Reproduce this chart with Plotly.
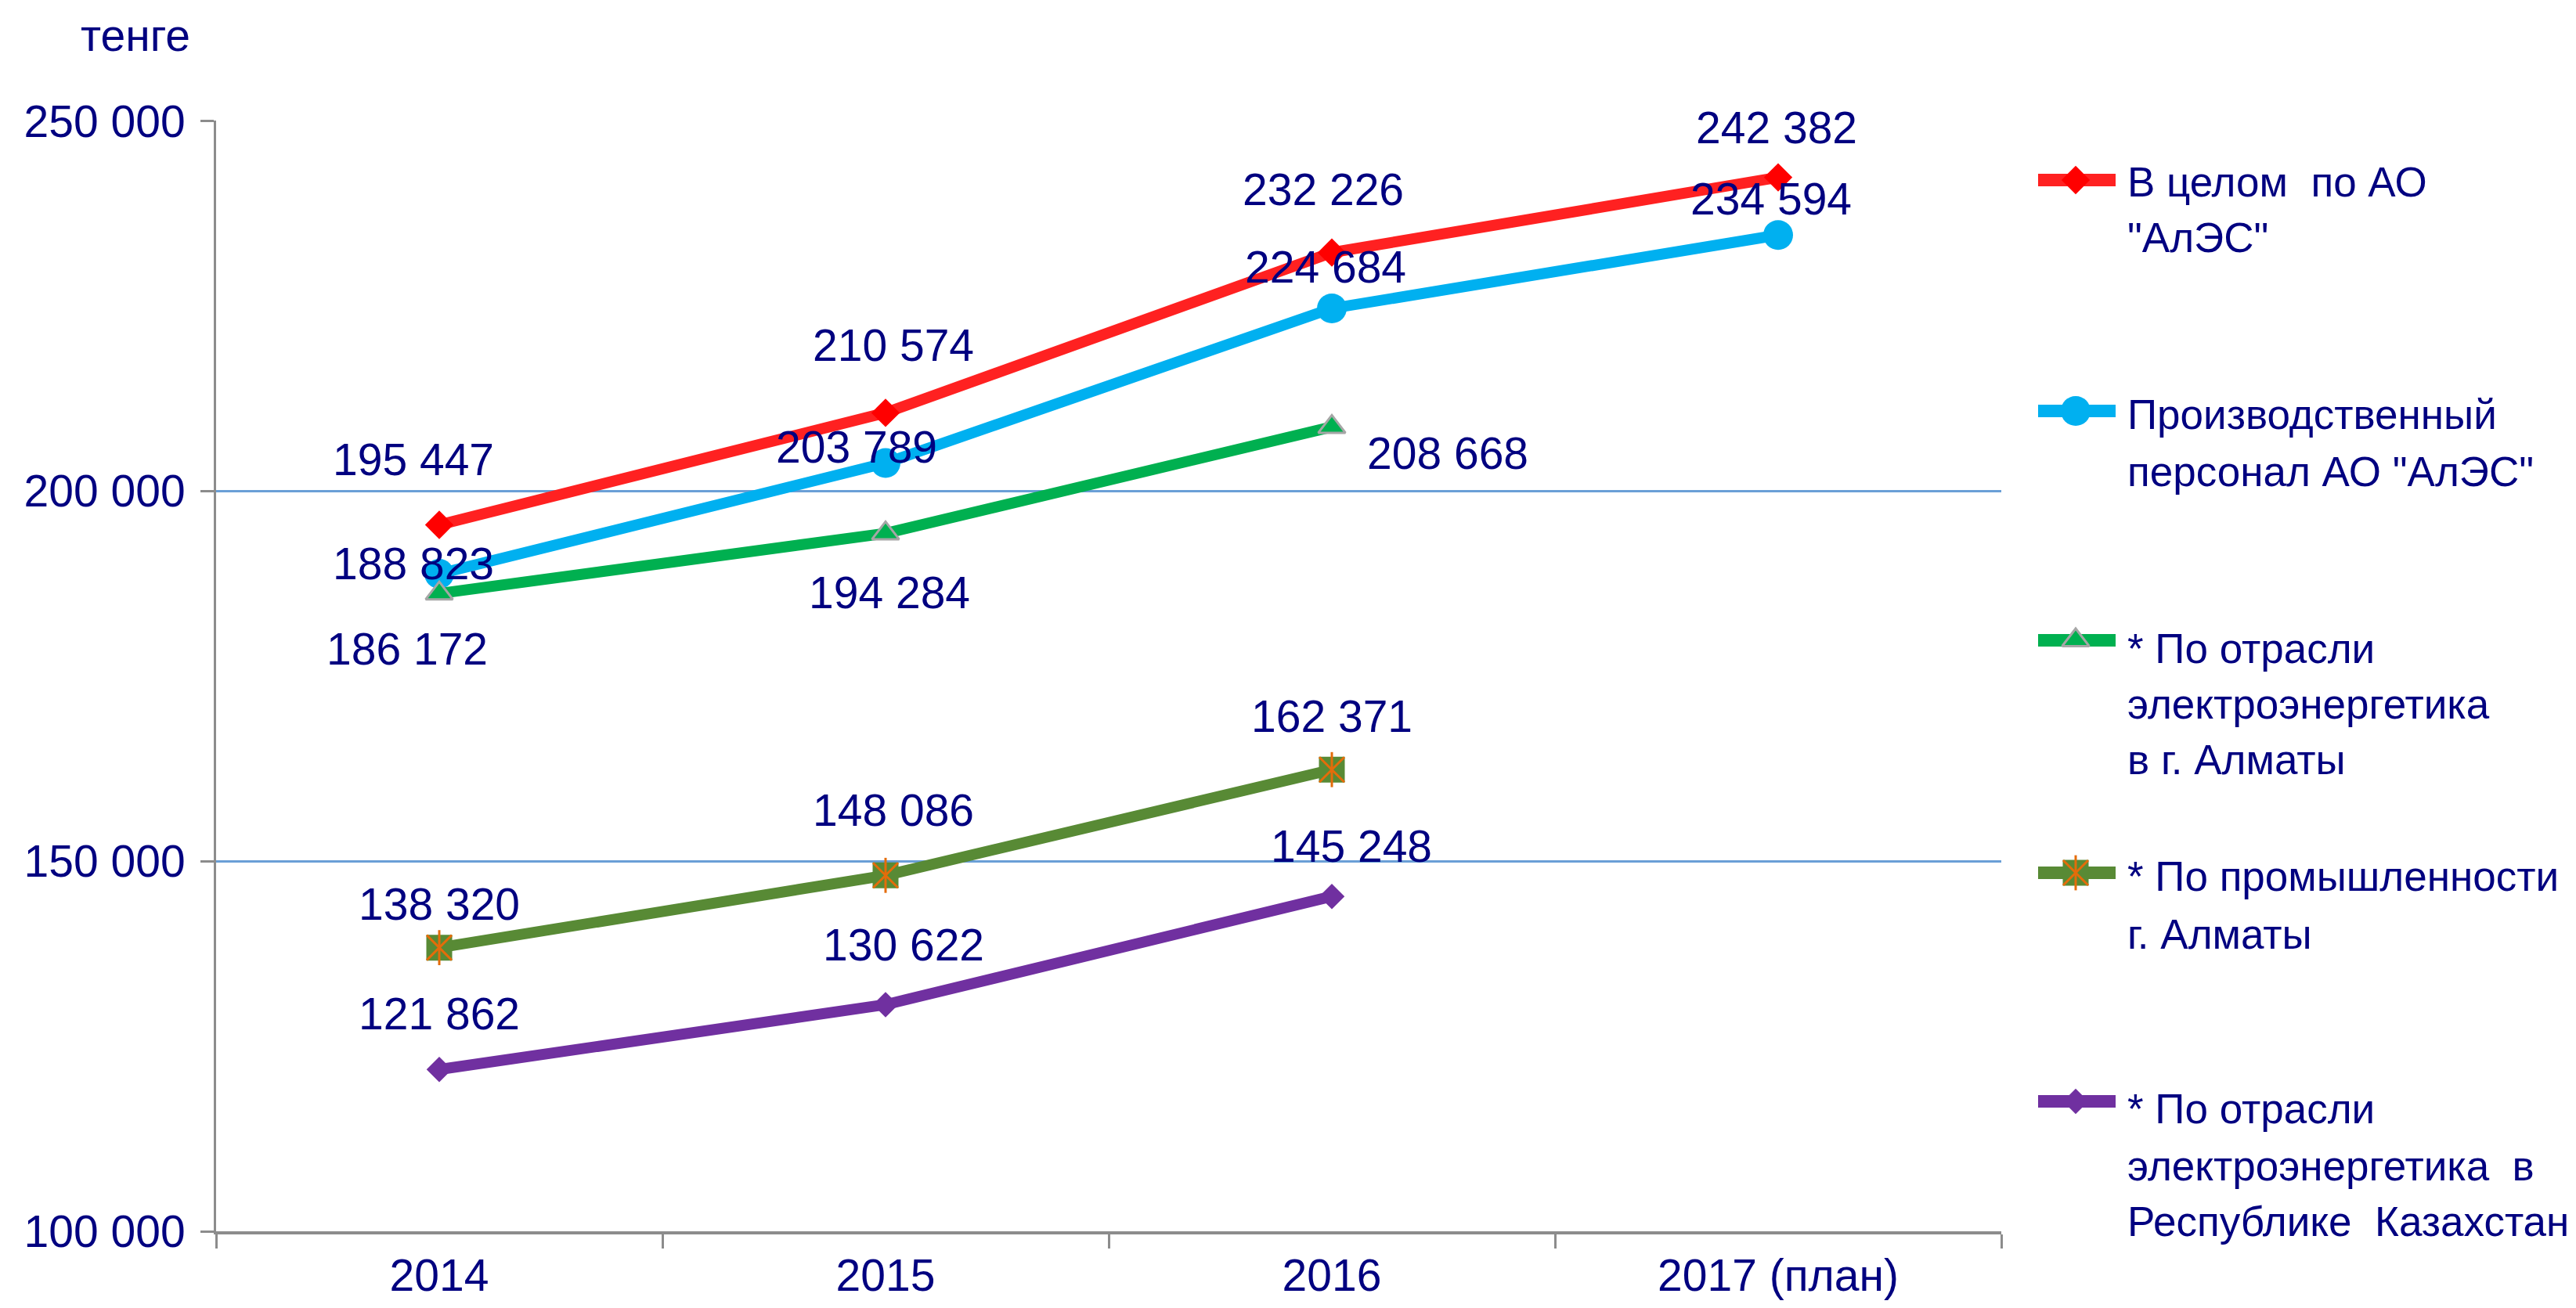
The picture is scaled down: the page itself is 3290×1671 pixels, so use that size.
import plotly.graph_objects as go

# ---------------- data ----------------
categories = ["2014", "2015", "2016", "2017 (план)"]
total_ales = [195447, 210574, 232226, 242382]
prod_staff = [188823, 203789, 224684, 234594]
energy_almaty = [186172, 194284, 208668]
industry_almaty = [138320, 148086, 162371]
energy_kz = [121862, 130622, 145248]
y_tick_values = [100000, 150000, 200000, 250000]

series_names = [
    'В целом по АО "АлЭС"',
    'Производственный персонал АО "АлЭС"',
    '* По отрасли электроэнергетика в г. Алматы',
    '* По промышленности г. Алматы',
    '* По отрасли электроэнергетика в Республике Казахстан',
]
legend_text_lines = [
    ['В целом  по АО', '"АлЭС"'],
    ['Производственный', 'персонал АО "АлЭС"'],
    ['* По отрасли', 'электроэнергетика', 'в г. Алматы'],
    ['* По промышленности', 'г. Алматы'],
    ['* По отрасли', 'электроэнергетика  в', 'Республике  Казахстан'],
]
y_unit = "тенге"

# ---------------- styles ----------------
W, H = 3290, 1671
FONT = "Liberation Sans, Arial, sans-serif"
NAVY = "#000080"
FS = 57
LEG_FS = 53
series_values = [total_ales, prod_staff, energy_almaty, industry_almaty, energy_kz]
line_colors = ["#FF2121", "#00B0F0", "#00B050", "#588A35", "#7030A0"]
marker_styles = [
    dict(symbol="diamond", size=28, color="#FF0000"),
    dict(symbol="circle", size=38, color="#00B0F0"),
    dict(symbol="triangle-up", size=30, color="#00B050", line=dict(color="#A6A6A6", width=3)),
    dict(symbol="square", size=33, color="#588A35"),
    dict(symbol="diamond", size=25, color="#7030A0"),
]
ORANGE = "#E46C0A"
# data label offsets (px, dx right, dy down)
label_offsets = [
    [(-33, -83), (10, -86), (-11, -81), (-2, -64)],
    [(-33, -13), (-37, -21), (-8, -53), (-9, -46)],
    [(-41, 71), (5, 76), (148, 34)],
    [(0, -56), (10, -83), (0, -68)],
    [(0, -71), (23, -76), (25, -64)],
]
# legend layout (px)
LEG_LINE_X0, LEG_LINE_X1, LEG_MARK_X, LEG_TEXT_X = 2595, 2694, 2643, 2707
legend_sample_y = [222, 517, 810, 1107, 1399]
legend_line_y = [[225, 295], [521, 594], [820, 891, 962], [1111, 1185], [1408, 1481, 1552]]

X0, X1 = 268, 2548
Y_TOP, Y_BOT = 146, 1565

fig = go.Figure()

for i, (name, vals) in enumerate(zip(series_names, series_values)):
    fig.add_trace(go.Scatter(
        x=categories[:len(vals)], y=vals, name=name, mode="lines+markers",
        line=dict(color=line_colors[i], width=14),
        marker=marker_styles[i], showlegend=False, cliponaxis=False,
    ))
    if i == 3:
        for sym in ["x-thin-open", "line-ns-open"]:
            fig.add_trace(go.Scatter(
                x=categories[:len(vals)], y=vals, mode="markers", showlegend=False,
                marker=dict(symbol=sym, size=32, color=ORANGE, line=dict(color=ORANGE, width=3)),
                cliponaxis=False, hoverinfo="skip",
            ))

annotations = []
for i, vals in enumerate(series_values):
    for j, v in enumerate(vals):
        dx, dy = label_offsets[i][j]
        annotations.append(dict(
            x=j, y=v, xref="x", yref="y", showarrow=False,
            text=f"{v:,}".replace(",", " "), xshift=dx, yshift=-dy,
            font=dict(family=FONT, size=FS, color=NAVY),
        ))

# manual legend (samples drawn on an auxiliary pixel axis)
for i in range(len(series_names)):
    ly = legend_sample_y[i]
    fig.add_trace(go.Scatter(
        x=[LEG_LINE_X0, LEG_LINE_X1], y=[ly, ly], xaxis="x2", yaxis="y2", mode="lines",
        line=dict(color=line_colors[i], width=16), showlegend=False, hoverinfo="skip",
    ))
    fig.add_trace(go.Scatter(
        x=[LEG_MARK_X], y=[ly], xaxis="x2", yaxis="y2", mode="markers",
        marker=marker_styles[i], showlegend=False, hoverinfo="skip",
    ))
    if i == 3:
        for sym in ["x-thin-open", "line-ns-open"]:
            fig.add_trace(go.Scatter(
                x=[LEG_MARK_X], y=[ly], xaxis="x2", yaxis="y2", mode="markers", showlegend=False,
                marker=dict(symbol=sym, size=32, color=ORANGE, line=dict(color=ORANGE, width=3)),
                hoverinfo="skip",
            ))
    for line, yc in zip(legend_text_lines[i], legend_line_y[i]):
        annotations.append(dict(
            x=LEG_TEXT_X / W, y=1 - yc / H, xref="paper", yref="paper",
            xanchor="left", yanchor="middle", showarrow=False, text=line,
            font=dict(family=FONT, size=LEG_FS, color=NAVY),
        ))

annotations.append(dict(
    x=237 / W, y=1 - 3 / H, xref="paper", yref="paper", xanchor="right", yanchor="top",
    showarrow=False, text=y_unit, font=dict(family=FONT, size=FS, color=NAVY),
))

fig.update_layout(
    width=W, height=H,
    margin=dict(l=0, r=0, t=0, b=0, pad=0),
    paper_bgcolor="white", plot_bgcolor="rgba(0,0,0,0)",
    separators=", ",
    font=dict(family=FONT, size=FS, color=NAVY),
    annotations=annotations,
    xaxis=dict(
        type="category", categoryorder="array", categoryarray=categories,
        range=[-0.5, 3.5], domain=[X0 / W, X1 / W], anchor="y",
        showline=True, linecolor="#8C8C8C", linewidth=4,
        ticks="outside", tickson="boundaries", ticklen=18, tickwidth=3, tickcolor="#8C8C8C",
        showgrid=False, automargin=False, ticklabelstandoff=4,
        tickfont=dict(family=FONT, size=FS, color=NAVY),
    ),
    yaxis=dict(
        range=[100000, 250060], domain=[1 - Y_BOT / H, 1 - Y_TOP / H], anchor="x",
        tickvals=y_tick_values, tickformat=",d",
        showline=True, linecolor="#8C8C8C", linewidth=3,
        ticks="outside", ticklen=17, tickwidth=3, tickcolor="#8C8C8C",
        showgrid=True, gridcolor="#6A9FD6", gridwidth=3, zeroline=False, automargin=False,
        ticklabelstandoff=8,
        tickfont=dict(family=FONT, size=FS, color=NAVY),
    ),
    xaxis2=dict(domain=[0, 1], range=[0, W], anchor="y2", visible=False, fixedrange=True),
    yaxis2=dict(domain=[0, 1], range=[H, 0], anchor="x2", visible=False, fixedrange=True),
)

fig.write_html("out.html")
